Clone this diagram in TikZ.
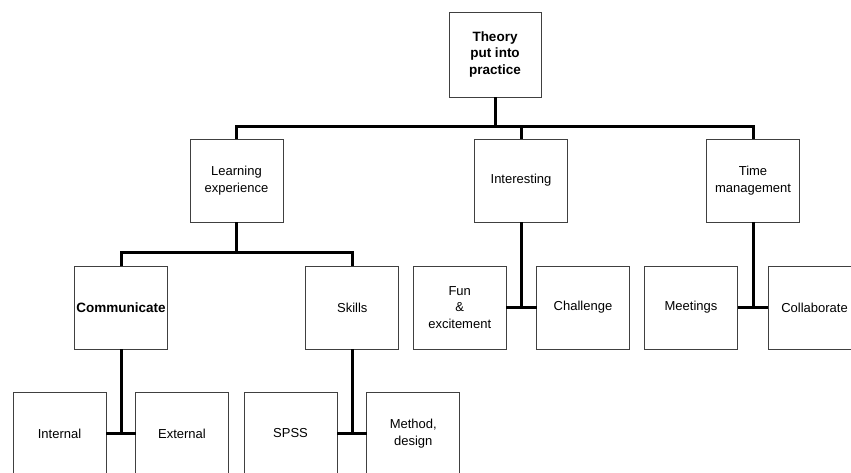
\documentclass[tikz,border=0pt]{standalone}
\usepackage{fontspec}
\setmainfont{Liberation Sans}
\begin{document}
\begin{tikzpicture}[x=1pt,y=-1pt,
  box/.style={draw=black!75,line width=0.9pt,fill=white,minimum width=93pt,minimum height=83pt,
    inner sep=0pt,outer sep=0pt,align=center,font=\fontsize{13}{16.7}\selectfont},
  boldtext/.style={font=\bfseries\fontsize{13.5}{16.5}\selectfont},
  conn/.style={draw=black,line width=3pt}]
\clip (0,0) rectangle (851,472);
\fill[white] (0,0) rectangle (851,472);
% nodes
\node[box,boldtext,minimum width=92pt,minimum height=85pt] (root) at (495,54.5) {Theory\\put into\\practice};
\node[box] (learn) at (236.5,180.5) {Learning\\experience};
\node[box] (inter) at (521,180.5) {Interesting};
\node[box] (time) at (753,180.5) {Time\\management};
\node[box,boldtext] (comm) at (121,307.5) {Communicate};
\node[box] (skills) at (352.3,307.5) {Skills};
\node[box] (fun) at (459.7,307.5) {Fun\\\&\\excitement};
\node[box] (chal) at (583,307.5) {Challenge};
\node[box] (meet) at (691,307.5) {Meetings};
\node[box] (collab) at (814.5,307.5) {Collaborate};
\node[box] (internal) at (59.5,433.5) {Internal};
\node[box] (external) at (182,433.5) {External};
\node[box] (spss) at (290.5,433.5) {SPSS};
\node[box] (method) at (413.3,433.5) {Method,\\design};
% connectors
\coordinate (bar1) at (495,126);
\draw[conn] (root.south) -- (bar1);
\draw[conn] (learn.north) -- (learn.north |- bar1) -- (time.north |- bar1) -- (time.north);
\draw[conn] (inter.north) -- (inter.north |- bar1);
\coordinate (bar2) at (236.5,252);
\draw[conn] (learn.south) -- (bar2);
\draw[conn] (comm.north) -- (comm.north |- bar2) -- (skills.north |- bar2) -- (skills.north);
\draw[conn] (inter.south) -- (inter.south |- fun.east);
\draw[conn] (fun.east) -- (chal.west);
\draw[conn] (time.south) -- (time.south |- meet.east);
\draw[conn] (meet.east) -- (collab.west);
\draw[conn] (comm.south) -- (comm.south |- internal.east);
\draw[conn] (internal.east) -- (external.west);
\draw[conn] (skills.south) -- (skills.south |- spss.east);
\draw[conn] (spss.east) -- (method.west);
\end{tikzpicture}
\end{document}
